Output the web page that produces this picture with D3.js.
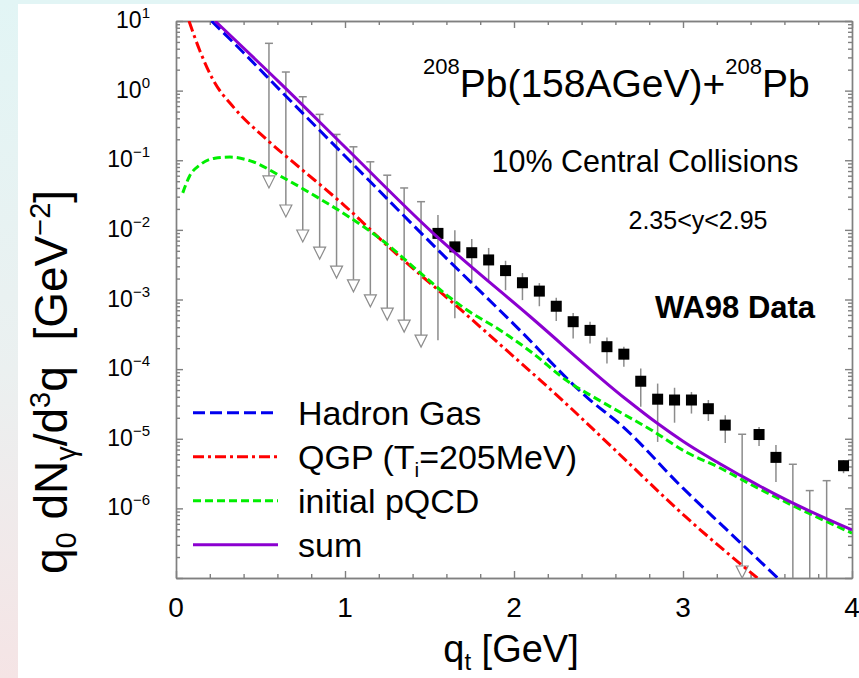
<!DOCTYPE html>
<html><head><meta charset="utf-8">
<script src="https://cdn.jsdelivr.net/npm/d3@7"></script>
<style>
body{margin:0;background:#fff;}
svg{display:block;}
text{font-family:"Liberation Sans",Arial,Helvetica,sans-serif;fill:#000;}
</style>
</head><body>
<svg id="chart" width="859" height="678"></svg>
<script>
// ---- theory curves (q_t in GeV, yield) ----
const hadronQ = [0.21, 0.40, 0.615, 1.0, 1.545, 2.0, 2.45, 2.63, 3.0, 3.26, 3.56];
const hadronV = [10, 3.5, 1.02, 0.115, 5.3e-3, 4.4e-4, 3.6e-5, 1.6e-5, 1.95e-6, 4.9e-7, 1.0e-7];

const qgpQ = [0.077, 0.14, 0.22, 0.34, 0.54, 0.73, 1.0, 1.28, 1.62, 2.0, 2.29, 2.63, 3.02, 3.44];
const qgpV = [10, 3.8, 1.42, 0.58, 0.195, 0.079, 0.022, 5.1e-3, 9.8e-4, 1.5e-4, 3.5e-5, 5.8e-6, 7.4e-7, 1.0e-7];

const pqcdQ = [0.04, 0.08, 0.14, 0.23, 0.32, 0.44, 0.63, 0.83, 1.03, 1.22, 1.43, 1.62, 1.72, 1.92, 2.11, 2.31, 2.51, 2.82, 3.02, 3.22, 3.41, 3.62, 4.0];
const pqcdV = [0.034, 0.059, 0.085, 0.107, 0.111, 0.098, 0.057, 0.030, 0.015, 7.1e-3, 2.6e-3, 1.07e-3, 7.1e-4, 3.6e-4, 1.7e-4, 6.9e-5, 3.5e-5, 1.3e-5, 6.4e-6, 3.8e-6, 2.15e-6, 1.19e-6, 4.4e-7];

const sumQ = [0.231, 0.615, 1.0, 1.521, 2.095, 2.669, 2.846, 3.0, 3.337, 3.615, 4.0];
const sumV = [10, 1.29, 0.155, 9.0e-3, 5.7e-4, 3.6e-5, 1.68e-5, 9.2e-6, 3.0e-6, 1.31e-6, 4.9e-7];

// ---- WA98 upper limits ----
const ulQ    = [0.55, 0.65, 0.75, 0.85, 0.95, 1.05, 1.15, 1.25, 1.35, 1.45, 3.35, 3.65, 3.75, 3.85];
const ulHigh = [4.78, 1.85, 0.817, 0.456, 0.235, 0.156, 0.095, 0.061, 0.040, 0.0254, 1.16e-5, 4.3e-6, 1.8e-6, 2.5e-6];
const ulLow  = [0.040, 0.0153, 6.7e-3, 3.8e-3, 2.03e-3, 1.29e-3, 7.85e-4, 5.06e-4, 3.4e-4, 2.07e-4, 1.0e-7, 1e-8, 1e-8, 1e-8];

// ---- WA98 measured points ----
const ptQ    = [1.55, 1.65, 1.75, 1.85, 1.95, 2.05, 2.15, 2.25, 2.35, 2.45, 2.55, 2.65, 2.75, 2.85, 2.95, 3.05, 3.15, 3.25, 3.45, 3.55, 3.95];
const ptVal  = [8.9e-3, 5.7e-3, 4.7e-3, 3.7e-3, 2.6e-3, 1.74e-3, 1.32e-3, 8.0e-4, 4.8e-4, 3.6e-4, 2.1e-4, 1.64e-4, 6.7e-5, 3.7e-5, 3.6e-5, 3.6e-5, 2.7e-5, 1.57e-5, 1.15e-5, 5.4e-6, 4.1e-6];
const ptHigh = [0.0163, 9.9e-3, 7.4e-3, 5.5e-3, 3.6e-3, 2.4e-3, 1.72e-3, 1.06e-3, 6.4e-4, 4.8e-4, 2.85e-4, 2.1e-4, 1.02e-4, 6.2e-5, 5.4e-5, 4.7e-5, 3.6e-5, 2.18e-5, 1.48e-5, 8.1e-6, 4.9e-6];
const ptLow  = [2.6e-4, 5.4e-4, 1.7e-3, 1.9e-3, 1.36e-3, 9.8e-4, 8.0e-4, 4.9e-4, 2.76e-4, 2.34e-4, 1.2e-4, 1.08e-4, 2.87e-5, 9.0e-6, 1.7e-5, 2.3e-5, 1.8e-5, 8.7e-6, 7.9e-6, 2.4e-6, 3.2e-6];

// ---- ticks / labels ----
const xMajor = [0, 1, 2, 3, 4];
const xMinor = [0.2,0.4,0.6,0.8,1.2,1.4,1.6,1.8,2.2,2.4,2.6,2.8,3.2,3.4,3.6,3.8];
const yExp = [1, 0, -1, -2, -3, -4, -5, -6];
const legendNames = ["Hadron Gas", "QGP (T", "initial pQCD", "sum"];

const svg = d3.select("#chart");
const W = 859, H = 678;
const L = 176, R = 852, T = 21, B = 578;

const defs = svg.append("defs");
const grad = defs.append("linearGradient").attr("id","bg").attr("x1",0).attr("y1",0).attr("x2",0).attr("y2",1);
grad.append("stop").attr("offset","0%").attr("stop-color","#e2f5f5");
grad.append("stop").attr("offset","55%").attr("stop-color","#ebf0f0");
grad.append("stop").attr("offset","100%").attr("stop-color","#f5e4e5");
defs.append("clipPath").attr("id","plot").append("rect").attr("x",L).attr("y",T).attr("width",R-L).attr("height",B-T);

svg.append("rect").attr("width",W).attr("height",H).attr("fill","url(#bg)");
svg.append("rect").attr("x",18).attr("y",4).attr("width",W-18).attr("height",H-4).attr("fill","#fff");

const x = d3.scaleLinear().domain([0,4]).range([L,R]);
const y = d3.scaleLog().domain([1e-7,10]).range([B,T]);

const axisCol = "#808080";
function styleAxis(g){
  g.selectAll("path,line").attr("stroke",axisCol).attr("stroke-width",1.4);
  g.selectAll("text").remove();
}
const yMinor = [];
for (let e=-7; e<1; e++) for (let m=2; m<=9; m++) yMinor.push(m*Math.pow(10,e));
const yMajorVals = d3.range(-7,2).map(e=>Math.pow(10,e));

svg.append("g").attr("transform",`translate(0,${B})`).call(d3.axisBottom(x).tickValues(xMajor).tickSizeInner(-7).tickSizeOuter(0)).call(styleAxis);
svg.append("g").attr("transform",`translate(0,${B})`).call(d3.axisBottom(x).tickValues(xMinor).tickSizeInner(-4).tickSizeOuter(0)).call(styleAxis);
svg.append("g").attr("transform",`translate(0,${T})`).call(d3.axisTop(x).tickValues(xMajor).tickSizeInner(-7).tickSizeOuter(0)).call(styleAxis);
svg.append("g").attr("transform",`translate(0,${T})`).call(d3.axisTop(x).tickValues(xMinor).tickSizeInner(-4).tickSizeOuter(0)).call(styleAxis);
svg.append("g").attr("transform",`translate(${L},0)`).call(d3.axisLeft(y).tickValues(yMajorVals).tickSizeInner(-7).tickSizeOuter(0)).call(styleAxis);
svg.append("g").attr("transform",`translate(${L},0)`).call(d3.axisLeft(y).tickValues(yMinor).tickSizeInner(-4).tickSizeOuter(0)).call(styleAxis);
svg.append("g").attr("transform",`translate(${R},0)`).call(d3.axisRight(y).tickValues(yMajorVals).tickSizeInner(-7).tickSizeOuter(0)).call(styleAxis);
svg.append("g").attr("transform",`translate(${R},0)`).call(d3.axisRight(y).tickValues(yMinor).tickSizeInner(-4).tickSizeOuter(0)).call(styleAxis);

// x tick labels
svg.append("g").selectAll("text").data(xMajor).join("text")
  .attr("x",d=>x(d)).attr("y",617).attr("text-anchor","middle").attr("font-size",28).text(d=>d);
// y tick labels
const yl = svg.append("g").selectAll("text").data(yExp).join("text")
  .attr("x",150).attr("y",d=>y(Math.pow(10,d))+7).attr("text-anchor","end").attr("font-size",23);
yl.append("tspan").text("10");
yl.append("tspan").attr("dy",-10).attr("font-size",15).text(d=> d<0 ? "\u2212"+(-d) : ""+d);

// axis titles
const xt = svg.append("text").attr("x",511).attr("y",662).attr("text-anchor","middle").attr("font-size",38);
xt.append("tspan").text("q");
xt.append("tspan").attr("dy",8).attr("font-size",24).text("t");
xt.append("tspan").attr("dy",-8).text(" [GeV]");

const ytl = svg.append("text").attr("transform","translate(67,382) rotate(-90)").attr("text-anchor","middle").attr("font-size",46);
ytl.append("tspan").text("q");
ytl.append("tspan").attr("dy",9).attr("font-size",29).text("0");
ytl.append("tspan").attr("dy",-9).text(" dN");
ytl.append("tspan").attr("dy",9).attr("font-size",29).text("\u03b3");
ytl.append("tspan").attr("dy",-9).text("/d");
ytl.append("tspan").attr("dy",-17).attr("font-size",29).text("3");
ytl.append("tspan").attr("dy",17).text("q\u00a0\u00a0[GeV");
ytl.append("tspan").attr("dy",-17).attr("font-size",29).text("\u22122");
ytl.append("tspan").attr("dy",17).text("]");

// annotations
const tt = svg.append("text").attr("x",423).attr("y",97).attr("font-size",39);
tt.append("tspan").attr("dy",-23).attr("font-size",22).text("208");
tt.append("tspan").attr("dy",23).text("Pb(158AGeV)+");
tt.append("tspan").attr("dy",-23).attr("font-size",22).text("208");
tt.append("tspan").attr("dy",23).text("Pb");
svg.append("text").attr("x",645).attr("y",172).attr("text-anchor","middle").attr("font-size",30.5).text("10% Central Collisions");
svg.append("text").attr("x",698).attr("y",229).attr("text-anchor","middle").attr("font-size",25).text("2.35<y<2.95");
svg.append("text").attr("x",735).attr("y",318).attr("text-anchor","middle").attr("font-size",31).attr("font-weight","bold").text("WA98 Data");

// curves
const series = [
  {q:hadronQ, v:hadronV, color:"#0000ee", dash:"12,5"},
  {q:qgpQ, v:qgpV, color:"#ff0000", dash:"11,4,3,4"},
  {q:pqcdQ, v:pqcdV, color:"#00ee00", dash:"8,4"},
  {q:sumQ, v:sumV, color:"#8b00d0", dash:null}
];
const line = d3.line().x(d=>x(d[0])).y(d=>y(d[1])).curve(d3.curveMonotoneX);
const plot = svg.append("g").attr("clip-path","url(#plot)");

const grey = "#8c8c8c";
const ul = plot.append("g");
ulQ.forEach((q,i)=>{
  const xc = x(q), yt = y(ulHigh[i]), yb = y(ulLow[i]);
  ul.append("line").attr("x1",xc).attr("x2",xc).attr("y1",yt).attr("y2",yb-12).attr("stroke",grey).attr("stroke-width",1.5);
  ul.append("line").attr("x1",xc-4).attr("x2",xc+4).attr("y1",yt).attr("y2",yt).attr("stroke",grey).attr("stroke-width",1.5);
  ul.append("path").attr("d",`M${xc-6},${yb-12}L${xc+6},${yb-12}L${xc},${yb}Z`).attr("fill","#fff").attr("stroke",grey).attr("stroke-width",1.2);
});
const pts = plot.append("g");
ptQ.forEach((q,i)=>{
  const xc = x(q);
  pts.append("line").attr("x1",xc).attr("x2",xc).attr("y1",y(ptHigh[i])).attr("y2",y(ptLow[i])).attr("stroke",grey).attr("stroke-width",1.5);
});

series.forEach(s=>{
  const p = plot.append("path").datum(s.q.map((q,i)=>[q,s.v[i]]))
    .attr("d",line).attr("fill","none").attr("stroke",s.color).attr("stroke-width",3);
  if (s.dash) p.attr("stroke-dasharray",s.dash);
});

ptQ.forEach((q,i)=>{
  pts.append("rect").attr("x",x(q)-5.5).attr("y",y(ptVal[i])-5.5).attr("width",11).attr("height",11).attr("fill","#000");
});

// legend
const leg = svg.append("g");
series.forEach((s,i)=>{
  const ly = 412.7 + i*44;
  const l = leg.append("line").attr("x1",193).attr("x2",278).attr("y1",ly).attr("y2",ly)
    .attr("stroke",s.color).attr("stroke-width",3);
  if (s.dash) l.attr("stroke-dasharray",s.dash);
  const t = leg.append("text").attr("x",298).attr("y",ly+12).attr("font-size",34).text(legendNames[i]);
  if (i===1){
    t.append("tspan").attr("dy",8).attr("font-size",21).text("i");
    t.append("tspan").attr("dy",-8).text("=205MeV)");
  }
});
</script>
</body></html>
